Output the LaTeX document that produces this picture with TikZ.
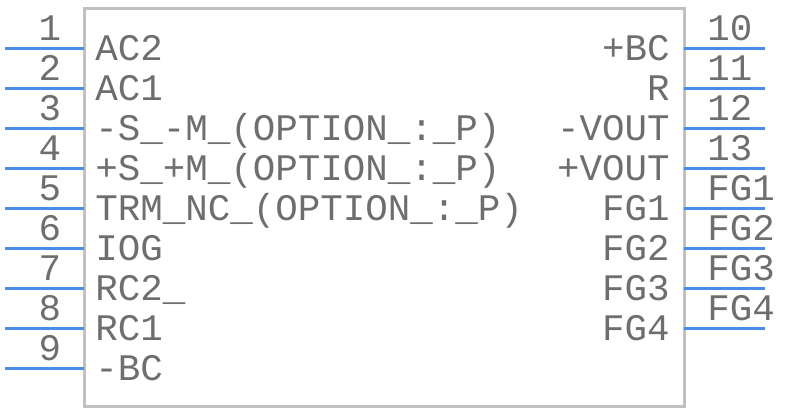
\documentclass[tikz,border=0pt]{standalone}
\usepackage{fontspec}
\setmonofont{Liberation Mono}
\definecolor{pinblue}{RGB}{74,140,232}
\definecolor{bodygray}{RGB}{192,192,192}
\definecolor{textgray}{RGB}{110,110,110}

\begin{document}
\begin{tikzpicture}[x=0.5pt,y=-0.5pt,
		wire/.style={draw=pinblue,line width=1.5pt},
		txt/.style={inner sep=0pt,text=textgray,font=\fontsize{18.75}{20}\ttfamily},
		numl/.style={txt,anchor=base},
		numr/.style={txt,anchor=base west},
		sigl/.style={txt,anchor=base west},
		sigr/.style={txt,anchor=base east}]
		\useasboundingbox (0,0) rectangle (786,412);
		\def\xa{5}
		\def\xl{84}
		\def\xr{684}
		\def\xb{765}
		% body
		\coordinate (bodynw) at (\xl,8);
		\coordinate (bodyse) at (\xr,406);
		\draw[bodygray,line width=1.5pt] (bodynw) rectangle (bodyse);
		% left pins
		\coordinate (a1) at (\xa,48);  \coordinate (b1) at (\xl,48);
		\coordinate (a2) at (\xa,88);  \coordinate (b2) at (\xl,88);
		\coordinate (a3) at (\xa,128); \coordinate (b3) at (\xl,128);
		\coordinate (a4) at (\xa,168); \coordinate (b4) at (\xl,168);
		\coordinate (a5) at (\xa,208); \coordinate (b5) at (\xl,208);
		\coordinate (a6) at (\xa,248); \coordinate (b6) at (\xl,248);
		\coordinate (a7) at (\xa,288); \coordinate (b7) at (\xl,288);
		\coordinate (a8) at (\xa,328); \coordinate (b8) at (\xl,328);
		\coordinate (a9) at (\xa,368); \coordinate (b9) at (\xl,368);
		\draw[wire] (a1) -- (b1);
		\draw[wire] (a2) -- (b2);
		\draw[wire] (a3) -- (b3);
		\draw[wire] (a4) -- (b4);
		\draw[wire] (a5) -- (b5);
		\draw[wire] (a6) -- (b6);
		\draw[wire] (a7) -- (b7);
		\draw[wire] (a8) -- (b8);
		\draw[wire] (a9) -- (b9);
		% right pins
		\coordinate (c10) at (\xr,48);  \coordinate (d10) at (\xb,48);
		\coordinate (c11) at (\xr,88);  \coordinate (d11) at (\xb,88);
		\coordinate (c12) at (\xr,128); \coordinate (d12) at (\xb,128);
		\coordinate (c13) at (\xr,168); \coordinate (d13) at (\xb,168);
		\coordinate (c14) at (\xr,208); \coordinate (d14) at (\xb,208);
		\coordinate (c15) at (\xr,248); \coordinate (d15) at (\xb,248);
		\coordinate (c16) at (\xr,288); \coordinate (d16) at (\xb,288);
		\coordinate (c17) at (\xr,328); \coordinate (d17) at (\xb,328);
		\draw[wire] (c10) -- (d10);
		\draw[wire] (c11) -- (d11);
		\draw[wire] (c12) -- (d12);
		\draw[wire] (c13) -- (d13);
		\draw[wire] (c14) -- (d14);
		\draw[wire] (c15) -- (d15);
		\draw[wire] (c16) -- (d16);
		\draw[wire] (c17) -- (d17);
		% pin numbers
		\node[numl] (n1) at (50,40) {1};
		\node[numl] (n2) at (50,80) {2};
		\node[numl] (n3) at (50,120) {3};
		\node[numl] (n4) at (50,160) {4};
		\node[numl] (n5) at (50,200) {5};
		\node[numl] (n6) at (50,240) {6};
		\node[numl] (n7) at (50,280) {7};
		\node[numl] (n8) at (50,320) {8};
		\node[numl] (n9) at (50,360) {9};
		\node[numr] (n10) at (707,40) {10};
		\node[numr] (n11) at (707,80) {11};
		\node[numr] (n12) at (707,120) {12};
		\node[numr] (n13) at (707,160) {13};
		\node[numr] (n14) at (707,200) {FG1};
		\node[numr] (n15) at (707,240) {FG2};
		\node[numr] (n16) at (707,280) {FG3};
		\node[numr] (n17) at (707,320) {FG4};
		% signal names
		\node[sigl] (s1) at (95,60) {AC2};
		\node[sigl] (s2) at (95,100) {AC1};
		\node[sigl] (s3) at (95,140) {-S\_-M\_(OPTION\_:\_P)};
		\node[sigl] (s4) at (95,180) {+S\_+M\_(OPTION\_:\_P)};
		\node[sigl] (s5) at (95,220) {TRM\_NC\_(OPTION\_:\_P)};
		\node[sigl] (s6) at (95,260) {IOG};
		\node[sigl] (s7) at (95,300) {RC2\_};
		\node[sigl] (s8) at (95,340) {RC1};
		\node[sigl] (s9) at (95,380) {-BC};
		\node[sigr] (s10) at (670,60) {+BC};
		\node[sigr] (s11) at (670,100) {R};
		\node[sigr] (s12) at (670,140) {-VOUT};
		\node[sigr] (s13) at (670,180) {+VOUT};
		\node[sigr] (s14) at (670,220) {FG1};
		\node[sigr] (s15) at (670,260) {FG2};
		\node[sigr] (s16) at (670,300) {FG3};
		\node[sigr] (s17) at (670,340) {FG4};
\end{tikzpicture}
\end{document}
